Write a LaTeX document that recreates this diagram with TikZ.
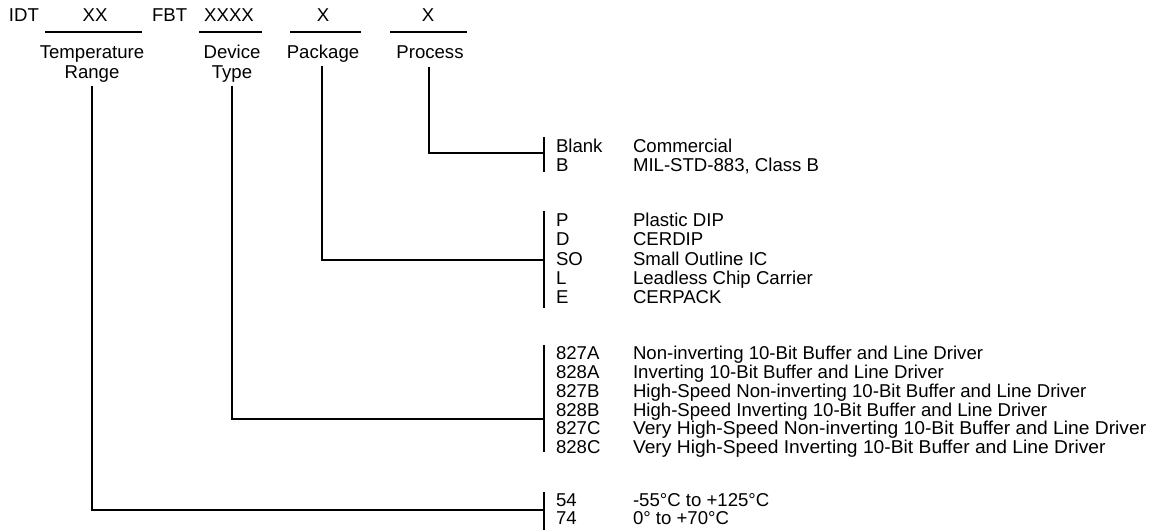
\documentclass[tikz,border=0pt]{standalone}
\usepackage{fontspec}
\setmainfont{Liberation Sans}
\begin{document}
\begin{tikzpicture}[x=1pt,y=-1pt,
  every node/.style={inner sep=0pt,outer sep=0pt,font=\fontsize{18.6}{19}\selectfont},
  lt/.style={anchor=base west},
  ct/.style={anchor=base},
  wide/.style={xscale=1.035},
  ln/.style={line width=1.1pt},
  bar/.style={line width=1.3pt}]
\useasboundingbox (0,0) rectangle (1158,530);
% top row
\node[lt] (idt) at (9,21.7) {IDT};
\node[ct] (xx) at (95,21.7) {XX};
\node[lt] (fbt) at (152,21.7) {FBT};
\node[ct] (xxxx) at (229,21.7) {XXXX};
\node[ct] (xp) at (323,21.7) {X};
\node[ct] (xq) at (428,21.7) {X};
\draw[ln] (45,32) -- (142,32);
\draw[ln] (199,32) -- (262,32);
\draw[ln] (290,32) -- (361,32);
\draw[ln] (390,32) -- (467,32);
% labels
\node[ct] (temp1) at (92,58.7) {Temperature};
\node[ct] (temp2) at (92,78.7) {Range};
\node[ct] (dev1) at (232,58.7) {Device};
\node[ct] (dev2) at (232,78.7) {Type};
\node[ct] (pkg) at (323,58.7) {Package};
\node[ct] (proc) at (430,58.7) {Process};
% process
\node[lt] (cBlank) at (556,152.7) {Blank};
\node[lt] (dBlank) at (633,152.7) {Commercial};
\node[lt] (cB) at (556,171.7) {B};
\node[lt] (dB) at (633,171.7) {MIL-STD-883, Class B};
% package
\node[lt] (cP) at (556,226.7) {P};
\node[lt] (dP) at (633,226.7) {Plastic DIP};
\node[lt] (cD) at (556,245.9) {D};
\node[lt] (dD) at (633,245.9) {CERDIP};
\node[lt] (cSO) at (556,265.1) {SO};
\node[lt] (dSO) at (633,265.1) {Small Outline IC};
\node[lt] (cL) at (556,284.3) {L};
\node[lt] (dL) at (633,284.3) {Leadless Chip Carrier};
\node[lt] (cE) at (556,303.5) {E};
\node[lt] (dE) at (633,303.5) {CERPACK};
% device
\node[lt] (c1) at (556,359.7) {827A};
\node[lt] (d1) at (633,359.7) {Non-inverting 10-Bit Buffer and Line Driver};
\node[lt] (c2) at (556,378.5) {828A};
\node[lt] (d2) at (633,378.5) {Inverting 10-Bit Buffer and Line Driver};
\node[lt] (c3) at (556,397.3) {827B};
\node[lt] (d3) at (633,397.3) {High-Speed Non-inverting 10-Bit Buffer and Line Driver};
\node[lt] (c4) at (556,416.1) {828B};
\node[lt] (d4) at (633,416.1) {High-Speed Inverting 10-Bit Buffer and Line Driver};
\node[lt] (c5) at (556,434.9) {827C};
\node[lt,wide] (d5) at (633,434.9) {Very High-Speed Non-inverting 10-Bit Buffer and Line Driver};
\node[lt] (c6) at (556,453.7) {828C};
\node[lt,wide] (d6) at (633,453.7) {Very High-Speed Inverting 10-Bit Buffer and Line Driver};
% temperature
\node[lt] (c54) at (556,506.7) {54};
\node[lt] (d54) at (633,506.7) {-55°C to +125°C};
\node[lt] (c74) at (556,524.7) {74};
\node[lt] (d74) at (633,524.7) {0° to +70°C};
% bars
\coordinate (bq1) at (544,137); \coordinate (bq2) at (544,172);
\coordinate (bp1) at (544,211); \coordinate (bp2) at (544,308);
\coordinate (bd1) at (544,345); \coordinate (bd2) at (544,452);
\coordinate (bt1) at (544,492); \coordinate (bt2) at (544,530);
\draw[bar] (bq1) -- (bq2);
\draw[bar] (bp1) -- (bp2);
\draw[bar] (bd1) -- (bd2);
\draw[bar] (bt1) -- (bt2);
% connectors
\coordinate (jq) at (544,153); \coordinate (jp) at (544,260);
\coordinate (jd) at (544,419); \coordinate (jt) at (544,510);
\draw[ln] (proc.south) ++(-1,8) coordinate (sq) -- (sq |- jq) -- (jq);
\draw[ln] (pkg.south) ++(-1,3) coordinate (sp) -- (sp |- jp) -- (jp);
\draw[ln] (dev2.south) ++(0,3) coordinate (sd) -- (sd |- jd) -- (jd);
\draw[ln] (temp2.south) ++(0,3) coordinate (st) -- (st |- jt) -- (jt);
\end{tikzpicture}
\end{document}
